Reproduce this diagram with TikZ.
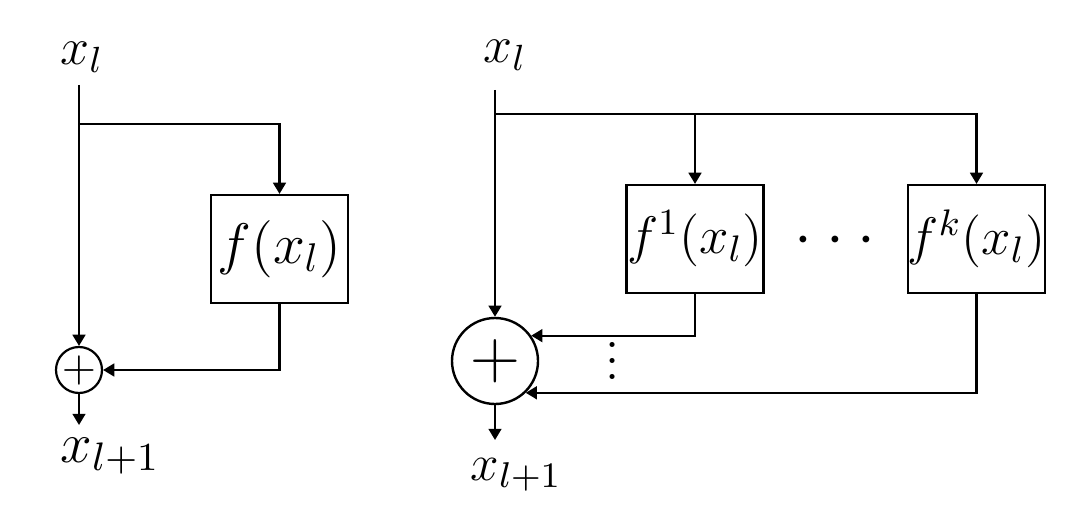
\RequirePackage{fix-cm}
\documentclass[tikz,border=0pt]{standalone}
\usetikzlibrary{arrows.meta}
\begin{document}
\begin{tikzpicture}[x=0.25pt,y=-0.25pt,
  every node/.style={font=\fontsize{13}{15}\selectfont},
  lbl/.style={inner sep=0pt,anchor=base west},
  ln/.style={line width=0.55pt},
  arr/.style={ln,-{Triangle[length=2.8pt,width=3.2pt]}},
  fbox/.style={draw,line width=0.55pt,minimum width=34.25pt,minimum height=27pt,inner sep=0pt},
  sumsmall/.style={draw,circle,line width=0.55pt,minimum size=11.5pt,inner sep=0pt,font=\fontsize{11}{12}\selectfont},
  sumbig/.style={draw,circle,line width=0.6pt,minimum size=21.5pt,inner sep=0pt,font=\fontsize{17.28}{20}\selectfont}]
\useasboundingbox (0,0) rectangle (1080,513);
% ---------- left block ----------
\node[lbl] (xl1) at (60,65) {$x_l$};
\coordinate (t1) at (79,85);
\coordinate (j1) at (79,124);
\node[fbox,font=\fontsize{14.3}{16}\selectfont] (f) at (279.5,249) {$f(x_l)$};
\node[sumsmall] (s1) at (79,370) {$+$};
\coordinate (o1) at (79,425);
\node[lbl,font=\fontsize{14.2}{16}\selectfont] (yl1) at (60,462) {$x_{l+1}$};
\draw[arr] (t1) -- (s1.north);
\draw[arr] (j1) -| (f.north);
\draw[arr] (f.south) |- (s1.east);
\draw[arr] (s1.south) -- (o1);
% ---------- right block ----------
\node[lbl] (xl2) at (483,63) {$x_l$};
\coordinate (t2) at (495,90);
\coordinate (j2) at (495,114);
\node[fbox,font=\fontsize{13.2}{15}\selectfont] (b1) at (695,239) {$f^1(x_l)$};
\node[fbox,font=\fontsize{13.2}{15}\selectfont] (bk) at (976.5,239) {$f^k(x_l)$};
\node[anchor=base,font=\fontsize{16}{18}\selectfont] (hd) at (835,255) {$\cdot$\hspace{3.55pt}$\cdot$\hspace{3.55pt}$\cdot$};
\node[sumbig] (s2) at (495,361) {$+$};
\node (vd) at (613,349) {$\vdots$};
\coordinate (o2) at (495,440);
\node[lbl,font=\fontsize{12.8}{15}\selectfont] (yl2) at (470,480) {$x_{l+1}$};
\draw[arr] (t2) -- (s2.north);
\draw[ln] (j2) -- (b1.north |- j2);
\draw[arr] (b1.north |- j2) -- (b1.north);
\draw[arr] (b1.north |- j2) -| (bk.north);
\draw[arr] (b1.south) |- (s2.35.5);
\draw[arr] (bk.south) |- (s2.-46);
\draw[arr] (s2.south) -- (o2);
\end{tikzpicture}
\end{document}
